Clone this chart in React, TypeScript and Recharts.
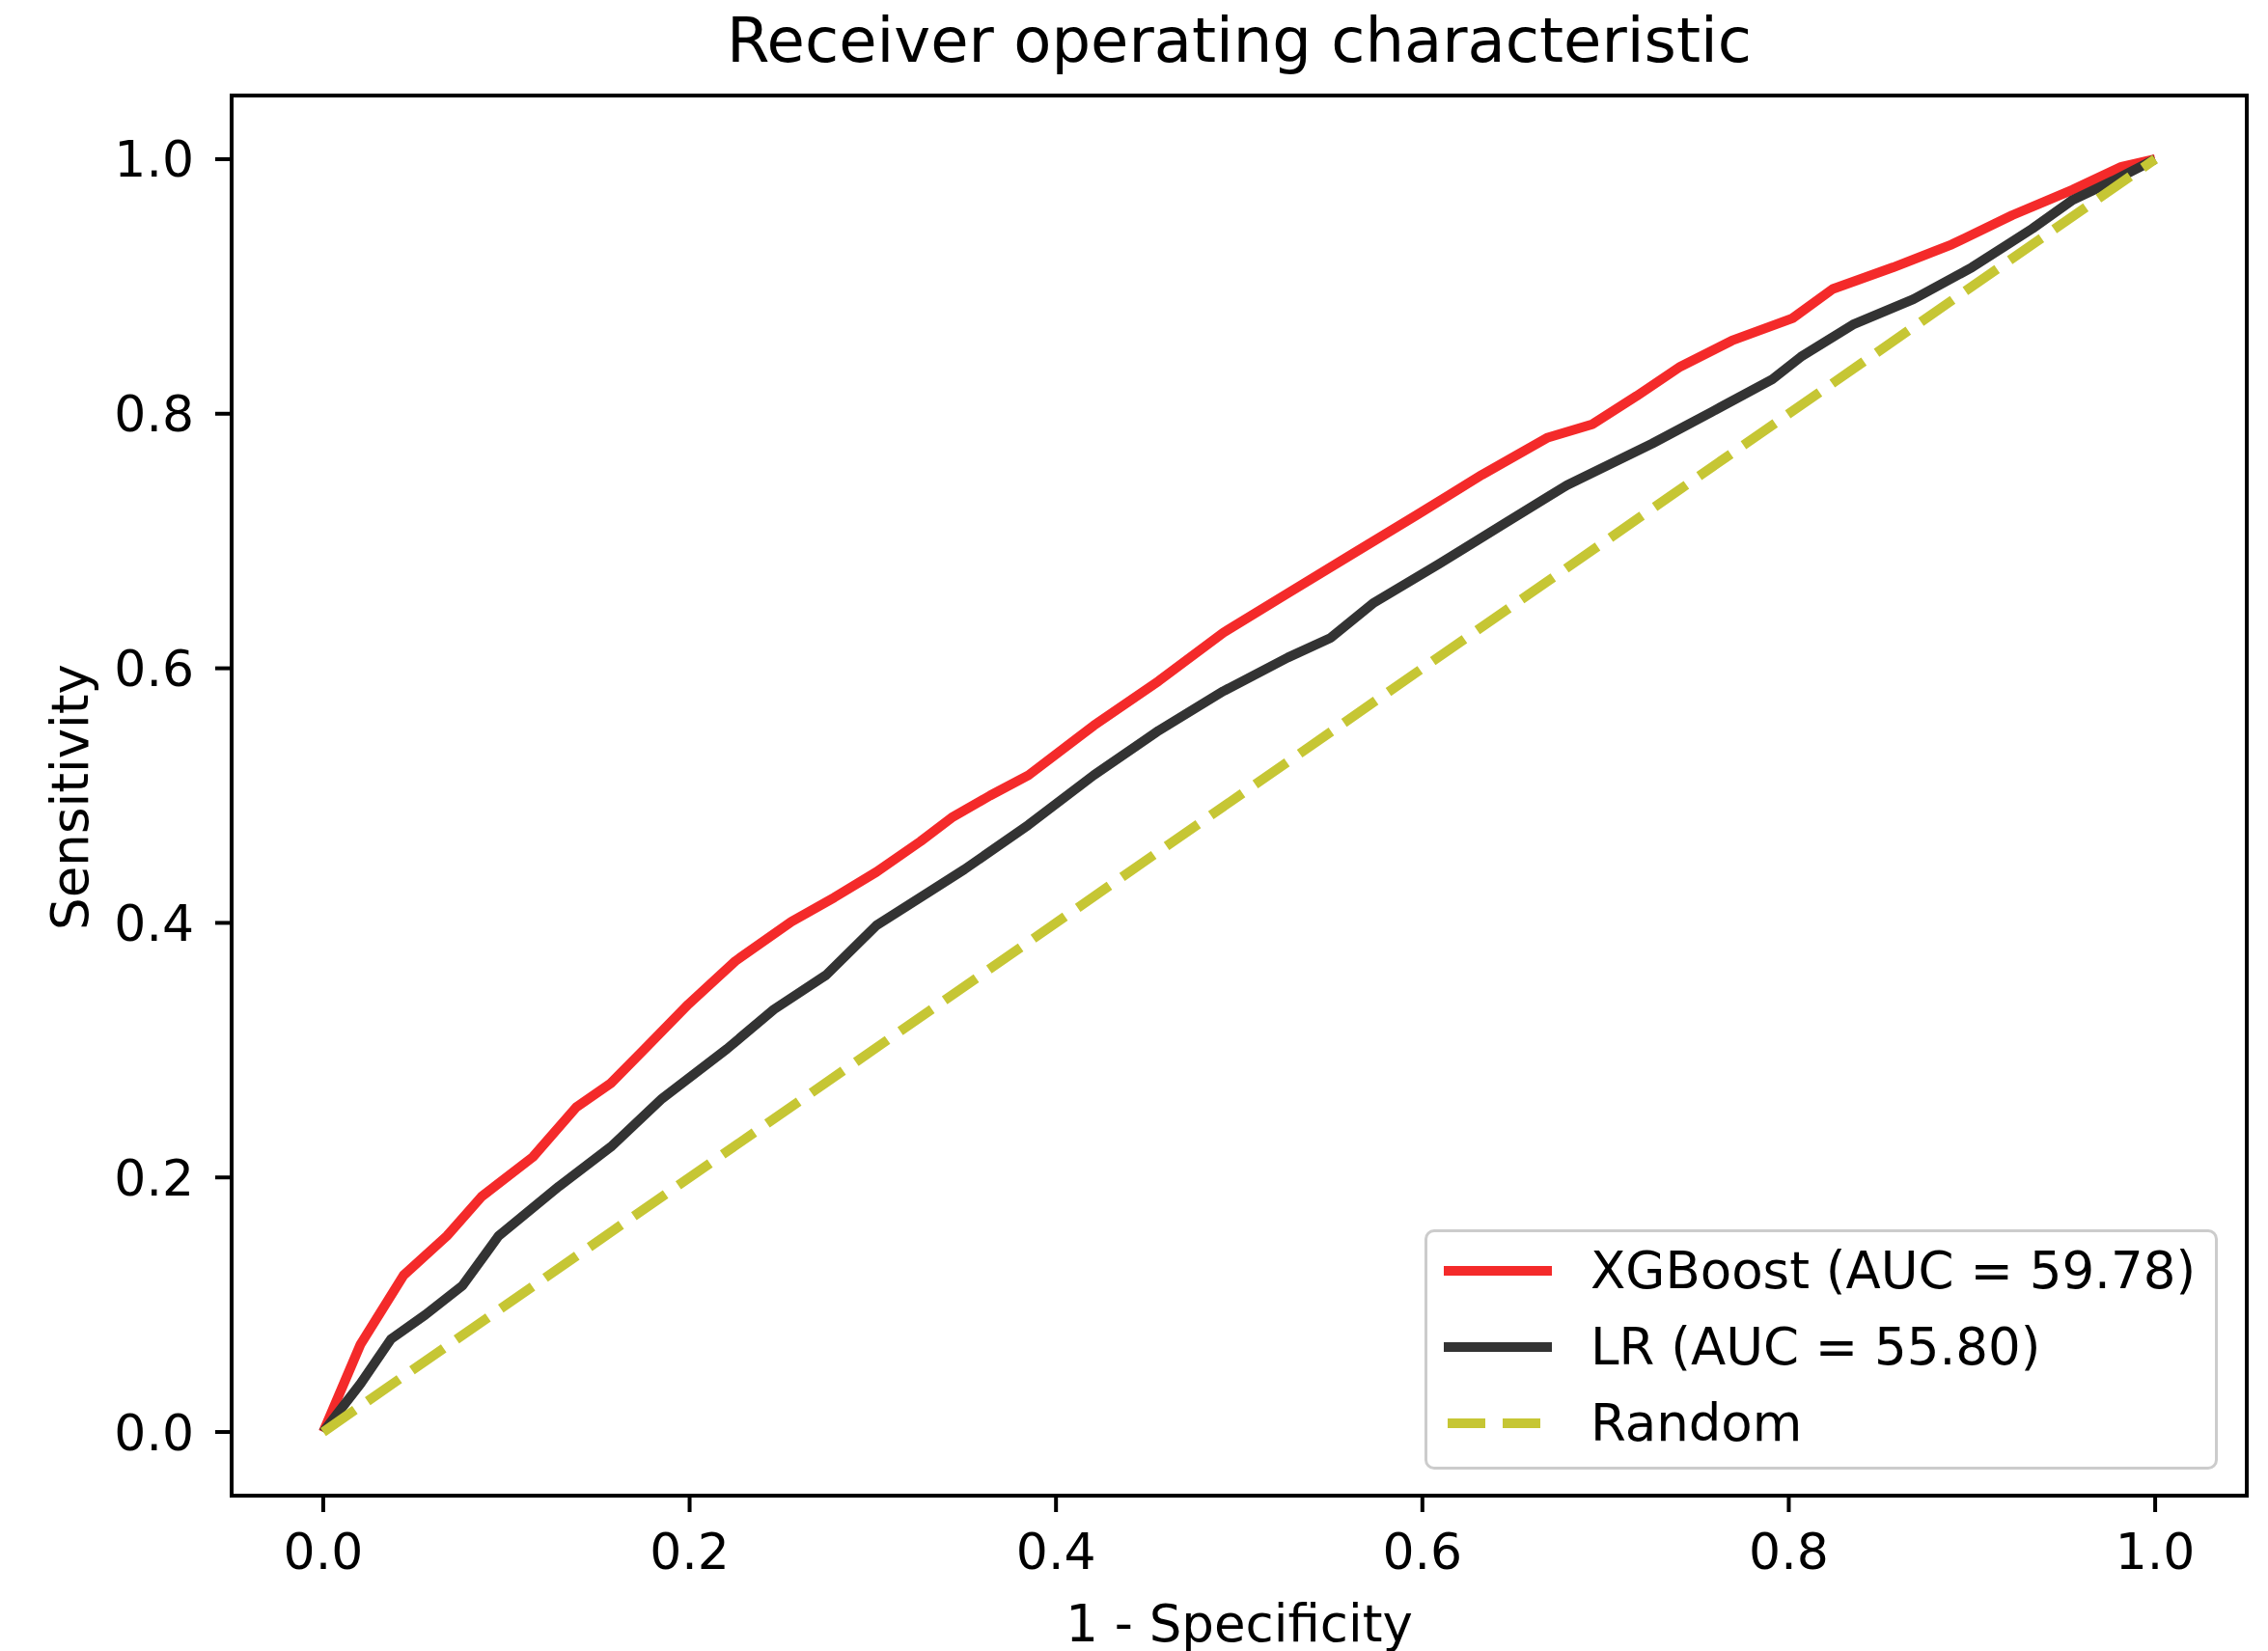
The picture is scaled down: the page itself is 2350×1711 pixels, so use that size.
import React from "react"
import { LineChart, Line, XAxis, YAxis, ReferenceArea } from "recharts"

const xgbFpr = [0, 0.0204, 0.0438, 0.0675, 0.0865, 0.1144, 0.138, 0.157, 0.1755, 0.1993, 0.225, 0.2556, 0.279, 0.302, 0.326, 0.343, 0.364, 0.385, 0.4206, 0.456, 0.4913, 0.5266, 0.562, 0.597, 0.6325, 0.668, 0.6927, 0.717, 0.7408, 0.769, 0.802, 0.824, 0.857, 0.889, 0.922, 0.955, 0.9816, 1]
const xgbTpr = [0, 0.069, 0.123, 0.154, 0.185, 0.216, 0.255, 0.274, 0.301, 0.336, 0.37, 0.401, 0.42, 0.44, 0.464, 0.4826, 0.5, 0.516, 0.555, 0.59, 0.628, 0.659, 0.69, 0.7205, 0.752, 0.781, 0.7917, 0.814, 0.837, 0.8575, 0.875, 0.898, 0.915, 0.933, 0.956, 0.976, 0.994, 1]

const lrFpr = [0, 0.0204, 0.037, 0.0557, 0.076, 0.0957, 0.1287, 0.157, 0.185, 0.2204, 0.246, 0.2745, 0.302, 0.331, 0.35, 0.385, 0.4206, 0.456, 0.4913, 0.5266, 0.55, 0.573, 0.609, 0.644, 0.679, 0.7254, 0.758, 0.791, 0.8066, 0.835, 0.868, 0.9, 0.933, 0.955, 0.977, 1]
const lrTpr = [0, 0.038, 0.073, 0.092, 0.115, 0.154, 0.193, 0.224, 0.262, 0.301, 0.332, 0.359, 0.398, 0.4246, 0.442, 0.477, 0.516, 0.551, 0.582, 0.6085, 0.624, 0.651, 0.682, 0.713, 0.744, 0.7765, 0.8015, 0.827, 0.8447, 0.87, 0.89, 0.915, 0.9455, 0.968, 0.983, 1]

const randomFpr = [0, 1]
const randomTpr = [0, 1]

const ticks = [0, 0.2, 0.4, 0.6, 0.8, 1.0]

const seriesNames = ["XGBoost (AUC = 59.78)", "LR (AUC = 55.80)", "Random"]
const seriesColors = ["#f42a2a", "#333333", "#c6c634"]

const toRows = (xs: number[], ys: number[]) => xs.map((x, i) => ({ x, y: ys[i] }))

const xgbData = toRows(xgbFpr, xgbTpr)
const lrData = toRows(lrFpr, lrTpr)
const randomData = toRows(randomFpr, randomTpr)

const FONT = "DejaVu Sans"

function LegendBox() {
  return (
    <div
      style={{
        position: "absolute",
        left: 1476,
        top: 1274,
        border: "3px solid #cccccc",
        borderRadius: 10,
        background: "rgba(255,255,255,0.85)",
        width: 822,
        height: 249,
        boxSizing: "border-box",
        paddingTop: 0,
        fontFamily: FONT,
        fontSize: 53,
        color: "#000",
      }}
    >
      {seriesNames.map((name, i) => (
        <div key={name} style={{ display: "flex", alignItems: "center", height: 79 }}>
          <svg width={130} height={20} style={{ marginLeft: 15 }}>
            <line
              x1={2}
              x2={114}
              y1={10}
              y2={10}
              stroke={seriesColors[i]}
              strokeWidth={10}
              strokeDasharray={i === 2 ? "39 18" : undefined}
              strokeDashoffset={i === 2 ? -4 : undefined}
            />
          </svg>
          <span style={{ marginLeft: 24 }}>{name}</span>
        </div>
      ))}
    </div>
  )
}

export default function App() {
  const tickStyle = { fill: "#000", fontSize: 52, fontFamily: FONT }
  return (
    <div style={{ position: "absolute", left: 0, top: 0, width: 2350, height: 1711, background: "#fff" }}>
      <div
        style={{
          position: "absolute",
          left: 0,
          width: 2350,
          top: 4,
          textAlign: "center",
          paddingLeft: 218,
          boxSizing: "border-box",
          fontFamily: FONT,
          fontSize: 64,
          lineHeight: "76px",
        }}
      >
        Receiver operating characteristic
      </div>
      <div
        style={{
          position: "absolute",
          left: 72,
          top: 826,
          transform: "translate(-50%, -50%) rotate(-90deg)",
          fontFamily: FONT,
          fontSize: 53,
          whiteSpace: "nowrap",
        }}
      >
        Sensitivity
      </div>
      <div
        style={{
          position: "absolute",
          left: 1284,
          top: 1682,
          transform: "translate(-50%, -50%)",
          fontFamily: FONT,
          fontSize: 53,
          whiteSpace: "nowrap",
        }}
      >
        1 - Specificity
      </div>
      <LineChart width={2350} height={1711} margin={{ top: 99, right: 22, left: 40, bottom: 61 }}>
        <XAxis
          type="number"
          dataKey="x"
          domain={[-0.05, 1.05]}
          ticks={ticks}
          tickFormatter={(v: number) => v.toFixed(1)}
          allowDataOverflow
          height={100}
          tickSize={17}
          tickMargin={22}
          tick={tickStyle}
          stroke="#000"
          axisLine={false}
          tickLine={{ stroke: "#000", strokeWidth: 4 }}
        />
        <YAxis
          type="number"
          dataKey="y"
          domain={[-0.05, 1.05]}
          ticks={ticks}
          tickFormatter={(v: number) => v.toFixed(1)}
          allowDataOverflow
          width={200}
          tickSize={17}
          tickMargin={22}
          tick={tickStyle}
          stroke="#000"
          axisLine={false}
          tickLine={{ stroke: "#000", strokeWidth: 4 }}
        />
        <ReferenceArea
          x1={-0.05}
          x2={1.05}
          y1={-0.05}
          y2={1.05}
          fill="none"
          stroke="#000"
          strokeWidth={4}
          ifOverflow="visible"
        />
        <Line
          data={xgbData}
          dataKey="y"
          name={seriesNames[0]}
          type="linear"
          stroke={seriesColors[0]}
          strokeWidth={10}
          dot={false}
          strokeLinejoin="round"
          isAnimationActive={false}
        />
        <Line
          data={lrData}
          dataKey="y"
          name={seriesNames[1]}
          type="linear"
          stroke={seriesColors[1]}
          strokeWidth={10}
          dot={false}
          strokeLinejoin="round"
          isAnimationActive={false}
        />
        <Line
          data={randomData}
          dataKey="y"
          name={seriesNames[2]}
          type="linear"
          stroke={seriesColors[2]}
          strokeWidth={10}
          strokeDasharray="40 16"
          dot={false}
          isAnimationActive={false}
        />
      </LineChart>
      <LegendBox />
    </div>
  )
}
